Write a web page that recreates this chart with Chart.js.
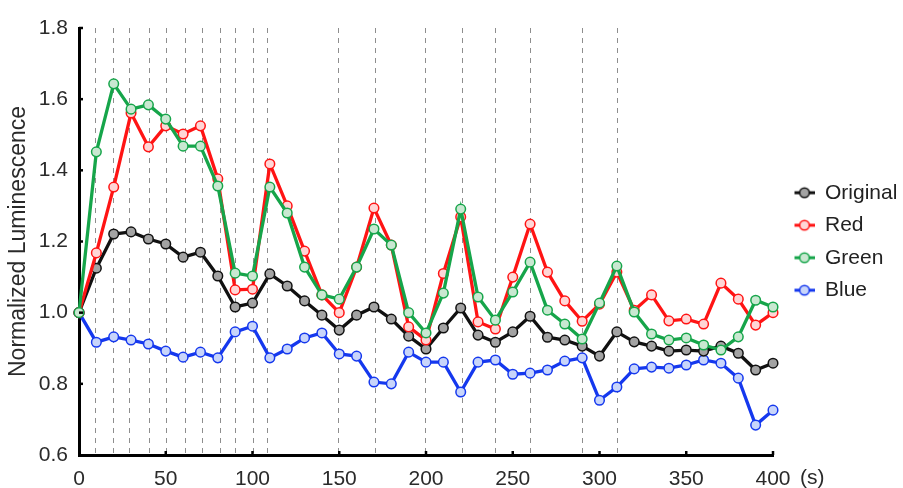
<!DOCTYPE html>
<html>
<head>
<meta charset="utf-8">
<script src="https://cdn.jsdelivr.net/npm/chart.js@4.4.1/dist/chart.umd.min.js"></script>
<style>
  html, body { margin: 0; padding: 0; background: #fff; }
  #wrap { width: 903px; height: 488px; }
</style>
</head>
<body>
<div id="wrap"><canvas id="lumChart" width="903" height="488"></canvas></div>
<script>
const times = [0, 10, 20, 30, 40, 50, 60, 70, 80, 90, 100, 110, 120, 130, 140, 150, 160, 170, 180, 190, 200,
  210, 220, 230, 240, 250, 260, 270, 280, 290, 300, 310, 320, 330, 340, 350, 360, 370, 380, 390, 400];

const original = [1.0, 1.125, 1.221, 1.227, 1.207, 1.193, 1.156, 1.170, 1.103, 1.016, 1.027,
  1.109, 1.075, 1.033, 0.993, 0.951, 0.993, 1.016, 0.982, 0.934, 0.898,
  0.957, 1.013, 0.937, 0.917, 0.946, 0.990, 0.931, 0.923, 0.906, 0.878,
  0.946, 0.918, 0.906, 0.892, 0.895, 0.892, 0.906, 0.886, 0.839, 0.858];

const red = [1.0, 1.168, 1.353, 1.561, 1.466, 1.525, 1.502, 1.525, 1.376, 1.064, 1.066,
  1.418, 1.300, 1.173, 1.050, 1.000, 1.128, 1.294, 1.190, 0.960, 0.923,
  1.110, 1.269, 0.974, 0.954, 1.100, 1.249, 1.114, 1.033, 0.976, 1.024,
  1.114, 1.007, 1.050, 0.977, 0.982, 0.968, 1.083, 1.038, 0.965, 1.000];

const green = [1.0, 1.452, 1.643, 1.572, 1.584, 1.544, 1.468, 1.468, 1.356, 1.111, 1.103,
  1.353, 1.280, 1.128, 1.050, 1.038, 1.128, 1.235, 1.190, 1.000, 0.943,
  1.055, 1.291, 1.044, 0.979, 1.058, 1.142, 1.007, 0.968, 0.926, 1.027,
  1.131, 1.002, 0.940, 0.923, 0.929, 0.909, 0.895, 0.932, 1.035, 1.016];

const blue = [1.0, 0.917, 0.932, 0.923, 0.912, 0.892, 0.875, 0.889, 0.873, 0.946, 0.962,
  0.873, 0.898, 0.929, 0.943, 0.884, 0.878, 0.805, 0.800, 0.889, 0.861,
  0.861, 0.777, 0.861, 0.867, 0.827, 0.830, 0.839, 0.864, 0.873, 0.754,
  0.791, 0.842, 0.847, 0.844, 0.853, 0.867, 0.858, 0.816, 0.684, 0.726];

// times where the dashed guide lines sit
const markTimes = [9, 19.7, 29, 40.4, 50, 61, 71, 81, 90, 100, 108.6, 149.5, 170.5, 199.5, 220.5, 240, 260, 290, 310];

const xTicksRange = [0, 400];
const yTicksRange = [0.6, 1.8];

const FONT = 'Liberation Sans, Arial, Helvetica, sans-serif';

function points(values) {
  return times.map((t, i) => ({ x: t, y: values[i] }));
}

function legendIcon(line, fill) {
  const c = document.createElement('canvas');
  c.width = 30;
  c.height = 14;
  const g = c.getContext('2d');
  g.strokeStyle = line;
  g.lineWidth = 3;
  g.beginPath();
  g.moveTo(10, 7);
  g.lineTo(30, 7);
  g.stroke();
  g.beginPath();
  g.arc(20, 7, 4.8, 0, Math.PI * 2);
  g.fillStyle = fill;
  g.fill();
  g.lineWidth = 1.5;
  g.stroke();
  return c;
}

const series = [
  { label: 'Original', values: original, line: '#111111', fill: '#a3a3a3', order: 2 },
  { label: 'Red', values: red, line: '#ff1414', fill: '#ffd6d6', order: 1 },
  { label: 'Green', values: green, line: '#16a54a', fill: '#c9e8d1', order: 0 },
  { label: 'Blue', values: blue, line: '#1538ee', fill: '#c8d5fa', order: 3 },
];

const guides = {
  id: 'guides',
  beforeDatasetsDraw(chart) {
    const { ctx, chartArea, scales: { x } } = chart;
    ctx.save();
    ctx.strokeStyle = '#8e8e8e';
    ctx.lineWidth = 1;
    ctx.setLineDash([5, 5]);
    markTimes.forEach(t => {
      const px = Math.round(x.getPixelForValue(t)) + 0.5;
      ctx.beginPath();
      ctx.moveTo(px, chartArea.top);
      ctx.lineTo(px, chartArea.bottom);
      ctx.stroke();
    });
    ctx.restore();
  },
  afterDraw(chart) {
    const { ctx, chartArea, scales: { x, y } } = chart;
    ctx.save();
    // little inward tick marks
    ctx.strokeStyle = '#000';
    ctx.lineWidth = 2.5;
    x.ticks.forEach(tk => {
      if (tk.value === xTicksRange[0]) return;
      const px = x.getPixelForValue(tk.value);
      ctx.beginPath();
      ctx.moveTo(px, chartArea.bottom);
      ctx.lineTo(px, chartArea.bottom - 4);
      ctx.stroke();
    });
    y.ticks.forEach(tk => {
      if (tk.value === yTicksRange[0]) return;
      const py = y.getPixelForValue(tk.value);
      ctx.beginPath();
      ctx.moveTo(chartArea.left, py);
      ctx.lineTo(chartArea.left + 4, py);
      ctx.stroke();
    });
    // unit after the last x label
    ctx.fillStyle = '#2a2a2a';
    ctx.font = `21px ${FONT}`;
    ctx.textAlign = 'left';
    ctx.textBaseline = 'middle';
    ctx.fillText('(s)', x.getPixelForValue(xTicksRange[1]) + 27, 478);
    ctx.restore();
  }
};

new Chart(document.getElementById('lumChart'), {
  type: 'line',
  data: {
    datasets: series.map(s => ({
      label: s.label,
      data: points(s.values),
      borderColor: s.line,
      backgroundColor: s.fill,
      pointBackgroundColor: s.fill,
      pointBorderColor: s.line,
      pointRadius: 4.8,
      pointBorderWidth: 1.5,
      pointHoverRadius: 4.8,
      borderWidth: 3.3,
      tension: 0,
      clip: false,
      order: s.order,
    }))
  },
  options: {
    responsive: false,
    animation: false,
    events: [],
    layout: { padding: { left: 0, right: 0, top: 28, bottom: 0 } },
    plugins: {
      tooltip: { enabled: false },
      legend: {
        position: 'right',
        align: 'center',
        fullSize: false,
        maxWidth: 130,
        labels: {
          usePointStyle: true,
          pointStyleWidth: 30,
          padding: 11.5,
          color: '#222',
          font: { family: FONT, size: 21 },
          sort: (a, b) => a.datasetIndex - b.datasetIndex,
          generateLabels(chart) {
            const items = Chart.defaults.plugins.legend.labels.generateLabels(chart);
            items.forEach(it => {
              const s = series[it.datasetIndex];
              it.pointStyle = legendIcon(s.line, s.fill);
            });
            return items;
          }
        }
      }
    },
    scales: {
      x: {
        type: 'linear',
        min: xTicksRange[0],
        max: xTicksRange[1],
        afterFit: s => { s.height = 33; },
        grid: { display: false, drawOnChartArea: false, drawTicks: false },
        border: { display: true, color: '#000', width: 3 },
        ticks: { stepSize: 50, padding: 12, color: '#2a2a2a', font: { family: FONT, size: 21 }, maxRotation: 0 }
      },
      y: {
        min: yTicksRange[0],
        max: yTicksRange[1],
        afterFit: s => { s.width = 79; },
        grid: { display: false, drawOnChartArea: false, drawTicks: false },
        border: { display: true, color: '#000', width: 3 },
        ticks: { stepSize: 0.2, padding: 11, color: '#2a2a2a', font: { family: FONT, size: 21 },
          callback: v => Number(v).toFixed(1) },
        title: { display: true, text: 'Normalized Luminescence', color: '#2a2a2a',
          font: { family: FONT, size: 23 }, padding: { top: 5, bottom: 0 } }
      }
    }
  },
  plugins: [guides]
});
</script>
</body>
</html>
